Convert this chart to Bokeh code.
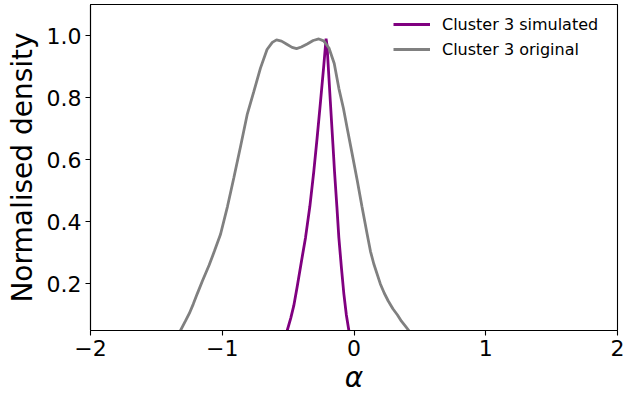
from bokeh.plotting import figure
from bokeh.models import Range1d, FixedTicker, Legend, LegendItem
from bokeh.embed import file_html
from bokeh.resources import INLINE

# ---- data ----
sim_x = [-0.55, -0.52, -0.507, -0.48, -0.457, -0.432, -0.40, -0.368, -0.335, -0.305,
         -0.28, -0.254, -0.23, -0.212, -0.205, -0.18, -0.16, -0.148, -0.13, -0.115,
         -0.095, -0.077, -0.058, -0.039, -0.025]
sim_y = [0.0, 0.03, 0.05, 0.09, 0.13, 0.189, 0.27, 0.349, 0.45, 0.563,
         0.67, 0.788, 0.90, 0.99, 0.97, 0.79, 0.65, 0.563, 0.45, 0.349,
         0.25, 0.168, 0.10, 0.05, 0.01]

orig_x = [-1.37, -1.317, -1.28, -1.25, -1.22, -1.19, -1.15, -1.10, -1.06, -1.013,
          -0.96, -0.912, -0.86, -0.811, -0.76, -0.71, -0.66, -0.62, -0.588, -0.55,
          -0.51, -0.47, -0.436, -0.40, -0.355, -0.31, -0.267, -0.23, -0.19, -0.15,
          -0.115, -0.08, -0.052, -0.01, 0.024, 0.06, 0.10, 0.125, 0.15, 0.20,
          0.23, 0.26, 0.295, 0.33, 0.36, 0.39, 0.416, 0.47]
orig_y = [0.0, 0.05, 0.08, 0.105, 0.135, 0.168, 0.21, 0.26, 0.305, 0.36,
          0.45, 0.542, 0.645, 0.745, 0.82, 0.895, 0.955, 0.978, 0.986, 0.982,
          0.972, 0.962, 0.958, 0.963, 0.973, 0.984, 0.989, 0.983, 0.96, 0.91,
          0.83, 0.765, 0.702, 0.61, 0.535, 0.45, 0.36, 0.305, 0.265, 0.20,
          0.17, 0.145, 0.12, 0.10, 0.08, 0.064, 0.05, 0.02]

x_ticks = [-2, -1, 0, 1, 2]
x_tick_labels = ["\u22122", "\u22121", "0", "1", "2"]
y_ticks = [0.2, 0.4, 0.6, 0.8, 1.0]
y_tick_labels = ["0.2", "0.4", "0.6", "0.8", "1.0"]

labels = ["Cluster 3 simulated", "Cluster 3 original"]
colors = ["#800080", "#808080"]

FONT = "DejaVu Sans"

p = figure(frame_width=527, frame_height=326,
           min_border_left=90, min_border_right=10, min_border_top=4, min_border_bottom=70,
           x_range=Range1d(-2, 2), y_range=Range1d(0.05, 1.1),
           output_backend="svg", toolbar_location=None)

p.grid.visible = False
p.outline_line_color = "black"
p.outline_line_width = 1.1
p.background_fill_color = "white"
p.border_fill_color = "white"

r_sim = p.line(sim_x, sim_y, line_color=colors[0], line_width=2.8)
r_orig = p.line(orig_x, orig_y, line_color=colors[1], line_width=2.8)

for ax in (p.xaxis[0], p.yaxis[0]):
    ax.axis_line_color = "black"
    ax.axis_line_width = 1.1
    ax.major_tick_line_color = "black"
    ax.major_tick_line_width = 1.1
    ax.major_tick_in = 0
    ax.major_tick_out = 5
    ax.minor_tick_line_color = None
    ax.major_label_text_font = FONT
    ax.major_label_text_font_size = "22px"
    ax.major_label_text_color = "black"
    ax.axis_label_text_font = FONT
    ax.axis_label_text_color = "black"

p.xaxis.ticker = FixedTicker(ticks=x_ticks)
p.xaxis.major_label_overrides = {t: l for t, l in zip(x_ticks, x_tick_labels)}
p.xaxis.major_label_standoff = 4
p.xaxis.axis_label = "\u03b1"
p.xaxis.axis_label_text_font_size = "28px"
p.xaxis.axis_label_text_font_style = "italic"
p.xaxis.axis_label_standoff = 2

p.yaxis.ticker = FixedTicker(ticks=y_ticks)
p.yaxis.major_label_overrides = {t: l for t, l in zip(y_ticks, y_tick_labels)}
p.yaxis.major_label_standoff = 4
p.yaxis.axis_label = "Normalised density"
p.yaxis.axis_label_text_font_size = "28px"
p.yaxis.axis_label_text_font_style = "normal"
p.yaxis.axis_label_standoff = 5

legend = Legend(items=[LegendItem(label=labels[0], renderers=[r_sim]),
                       LegendItem(label=labels[1], renderers=[r_orig])],
                location=(303, 269.7),
                padding=0, margin=0, spacing=3,
                glyph_width=37, glyph_height=22, label_height=22,
                label_standoff=12,
                label_text_font=FONT, label_text_font_size="16px",
                label_text_color="black",
                border_line_color=None, background_fill_alpha=0)
p.add_layout(legend)

open("out.html", "w").write(file_html(p, INLINE))
